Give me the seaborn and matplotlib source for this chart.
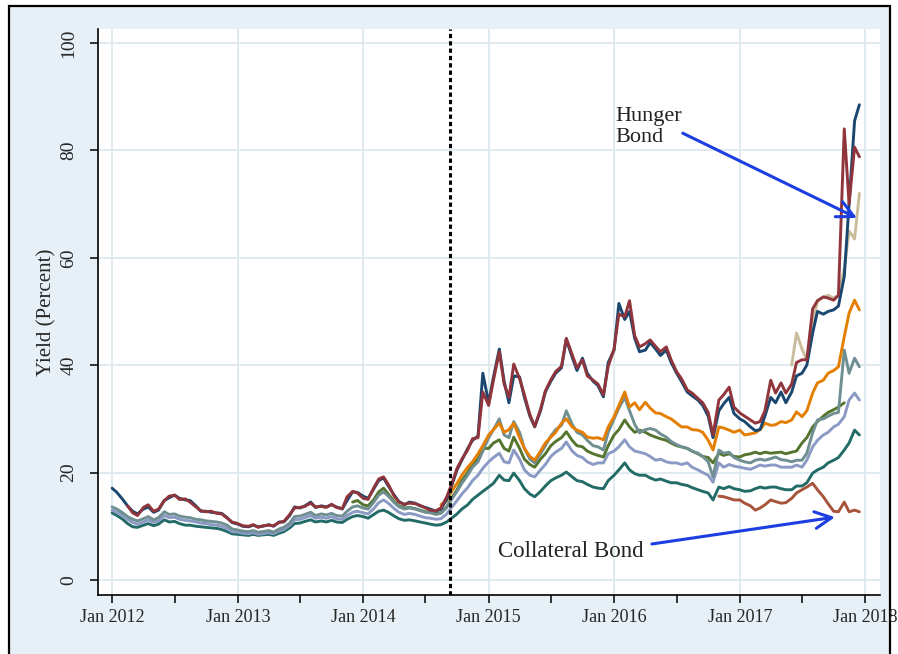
import matplotlib
matplotlib.use("Agg")
import matplotlib.pyplot as plt
import matplotlib.dates as mdates
from matplotlib.patches import Rectangle
import numpy as np
import pandas as pd
import seaborn as sns

nan = np.nan

# fechas quincenales (1 y 15 de cada mes)
fechas = list(pd.date_range("2012-01-01", "2017-12-15", freq="SMS"))

# rendimientos (por anio, 24 valores cada uno)
navy = ([17.1, 16.3, 15.0, 13.8, 12.8, 12.3, 13.2, 13.6, 12.6, 13.0, 14.8, 15.3, 15.8, 15.2, 14.9, 14.8, 13.8, 12.8, 12.8, 12.6, 12.5, 12.4, 11.6, 10.7]
        + [10.4, 10.0, 9.9, 10.2, 9.9, 10.0, 10.3, 10.0, 10.8, 10.8, 12.0, 13.6, 13.4, 13.8, 14.5, 13.5, 13.8, 13.6, 14.0, 13.6, 13.2, 14.8, 16.4, 16.3]
        + [15.6, 15.2, 17.0, 18.5, 19.0, 17.5, 15.8, 14.6, 14.0, 14.5, 14.3, 13.8, 13.5, 13.2, 12.8, 13.2, 15.0, 17.5, 20.5, 22.3, 24.5, 26.0, 26.8, 38.5]
        + [33.0, 37.8, 43.0, 37.0, 33.0, 38.0, 37.8, 34.0, 30.5, 28.5, 31.5, 35.0, 37.0, 38.5, 39.5, 44.8, 41.5, 39.0, 41.3, 38.5, 37.0, 36.2, 34.1, 40.5]
        + [42.8, 51.5, 48.5, 50.0, 45.0, 42.5, 42.8, 44.2, 43.0, 41.8, 42.8, 40.5, 38.5, 37.0, 35.0, 34.3, 33.5, 32.5, 30.5, 26.5, 31.5, 32.8, 34.0, 31.0]
        + [30.0, 29.5, 28.5, 27.8, 28.0, 30.5, 34.0, 33.0, 35.0, 33.0, 35.0, 38.0, 38.5, 40.0, 46.0, 50.0, 49.5, 50.0, 50.3, 51.0, 56.5, 70.0, 85.5, 88.5])

maroon = ([nan, nan, nan, 13.8, 12.5, 12.0, 13.5, 14.0, 12.8, 13.2, 14.8, 15.6, 15.8, 15.0, 15.1, 14.5, 13.6, 12.9, 12.7, 12.8, 12.4, 12.3, 11.5, 10.8]
          + [10.5, 10.1, 10.0, 10.3, 9.8, 10.1, 10.2, 10.1, 10.7, 10.9, 12.2, 13.4, 13.5, 13.7, 14.3, 13.6, 13.7, 13.5, 14.1, 13.5, 13.3, 15.5, 16.5, 16.2]
          + [15.2, 15.0, 17.2, 18.8, 19.2, 17.8, 15.6, 14.5, 14.1, 14.3, 14.2, 13.9, 13.4, 13.0, 12.9, 13.4, 15.5, 17.8, 20.8, 22.5, 24.2, 26.3, 26.5, 35.0]
          + [32.5, 37.2, 42.5, 36.5, 34.0, 40.2, 37.5, 34.5, 30.8, 28.6, 31.8, 35.2, 37.3, 38.8, 39.8, 45.0, 42.0, 39.5, 41.0, 38.0, 37.2, 36.5, 34.5, 39.8]
          + [43.0, 49.5, 49.0, 52.0, 45.5, 43.4, 44.0, 44.7, 43.5, 42.5, 43.4, 41.0, 38.8, 37.5, 35.4, 34.8, 33.8, 33.0, 31.2, 27.0, 33.5, 34.5, 35.9, 32.2]
          + [31.1, 30.5, 29.8, 29.2, 29.5, 31.5, 37.2, 34.8, 36.7, 34.8, 36.5, 40.5, 41.0, 41.0, 50.5, 52.0, 52.7, 52.5, 52.1, 53.0, 84.0, 70.0, 80.6, 78.8])

naranja = ([nan] * 24 + [nan] * 24
           + [nan] * 15 + [14.0, 14.8, 16.5, 18.0, 19.5, 21.0, 22.0, 23.5, 25.0]
           + [27.0, 28.0, 29.2, 27.5, 28.0, 29.2, 26.5, 24.5, 23.0, 22.3, 24.0, 25.5, 26.6, 27.5, 29.2, 30.0, 28.5, 27.9, 27.5, 26.6, 26.4, 26.5, 26.1, 28.5]
           + [30.4, 32.5, 35.0, 32.2, 33.0, 31.7, 33.1, 32.0, 31.1, 31.0, 30.4, 30.0, 29.2, 28.5, 28.5, 28.0, 27.9, 27.5, 26.0, 24.2, 28.5, 28.3, 27.9, 27.5]
           + [27.9, 27.0, 27.2, 27.4, 28.0, 29.2, 28.8, 28.9, 29.5, 29.3, 29.8, 31.3, 30.4, 31.5, 34.8, 36.7, 37.2, 38.5, 39.0, 39.7, 45.3, 49.7, 52.1, 50.3])

teal = ([13.6, 13.2, 12.5, 11.8, 11.3, 11.0, 11.4, 11.8, 11.2, 11.6, 12.7, 12.2, 12.3, 11.9, 11.7, 11.6, 11.3, 11.2, 11.0, 10.9, 10.8, 10.6, 10.2, 9.5]
        + [9.3, 9.1, 9.0, 9.2, 8.9, 9.0, 9.2, 8.9, 9.5, 9.8, 10.6, 11.8, 11.9, 12.2, 12.6, 12.0, 12.3, 12.1, 12.4, 12.0, 11.9, 12.8, 13.6, 13.8]
        + [13.4, 13.2, 14.5, 15.8, 16.4, 15.6, 14.4, 13.6, 13.2, 13.4, 13.2, 12.9, 12.6, 12.5, 12.2, 12.4, 13.5, 15.0, 16.5, 18.0, 19.5, 21.0, 22.0, 24.0]
        + [26.5, 28.0, 30.0, 27.0, 26.5, 29.5, 27.5, 24.5, 22.5, 21.8, 23.5, 25.0, 26.8, 28.0, 28.8, 31.5, 29.0, 27.5, 27.0, 26.0, 25.0, 24.8, 24.2, 27.5]
        + [30.0, 32.0, 34.0, 31.5, 29.0, 27.4, 28.0, 28.2, 27.9, 27.2, 26.6, 25.8, 25.2, 24.8, 24.5, 24.0, 23.6, 23.0, 22.0, 19.2, 24.2, 23.6, 23.8, 22.8]
        + [22.3, 22.0, 21.8, 22.3, 22.5, 22.3, 22.6, 22.9, 22.4, 22.3, 22.0, 22.3, 22.3, 23.6, 27.4, 29.8, 30.0, 30.5, 31.0, 31.2, 42.8, 38.5, 41.3, 39.7])

verde = ([nan] * 24
         + [nan] * 22 + [14.5, 14.8]
         + [14.0, 13.8, 15.0, 16.4, 17.1, 16.0, 14.6, 13.8, 13.4, 13.5, 13.3, 13.0, 12.7, 12.6, 12.3, 12.5, 13.6, 15.2, 16.8, 18.5, 20.0, 21.5, 22.5, 24.5]
         + [24.5, 25.5, 26.1, 24.5, 24.0, 26.6, 24.5, 22.5, 21.5, 21.0, 22.5, 23.5, 25.0, 25.8, 26.5, 27.6, 26.0, 25.0, 24.8, 24.0, 23.5, 23.2, 22.9, 25.0]
         + [27.0, 28.0, 29.8, 28.5, 27.5, 27.9, 27.5, 27.0, 26.6, 26.3, 26.0, 25.5, 25.0, 24.8, 24.5, 24.0, 23.5, 23.0, 22.8, 21.8, 23.6, 23.2, 23.5, 23.0]
         + [22.9, 23.3, 23.5, 23.8, 23.5, 23.8, 23.6, 23.7, 23.8, 23.5, 23.8, 24.0, 25.5, 26.5, 28.5, 29.5, 30.5, 31.2, 31.7, 32.2, 33.0, nan, nan, nan])

lavanda = ([13.0, 12.6, 12.0, 11.3, 10.7, 10.4, 10.8, 11.2, 10.7, 11.0, 12.0, 11.6, 11.7, 11.3, 11.1, 11.0, 10.8, 10.6, 10.5, 10.3, 10.2, 10.0, 9.6, 9.0]
           + [8.9, 8.7, 8.6, 8.8, 8.5, 8.6, 8.8, 8.6, 9.1, 9.4, 10.2, 11.2, 11.3, 11.6, 12.0, 11.5, 11.7, 11.5, 11.8, 11.4, 11.3, 12.0, 12.6, 12.8]
           + [12.5, 12.3, 13.3, 14.4, 14.9, 14.3, 13.3, 12.6, 12.2, 12.4, 12.2, 11.9, 11.6, 11.5, 11.3, 11.4, 12.3, 13.5, 14.8, 16.0, 17.2, 18.5, 19.5, 20.8]
           + [22.0, 22.8, 23.6, 22.0, 21.8, 24.2, 22.5, 20.5, 19.5, 19.2, 20.5, 21.5, 23.0, 23.8, 24.5, 25.7, 24.0, 23.2, 22.8, 22.0, 21.5, 21.8, 21.8, 23.5]
           + [24.0, 24.8, 26.1, 24.8, 24.0, 23.8, 23.5, 23.0, 22.3, 22.5, 22.0, 21.8, 21.8, 21.5, 21.8, 21.0, 20.5, 20.0, 19.5, 18.2, 21.8, 21.0, 21.5, 21.2]
           + [21.0, 20.8, 20.6, 21.0, 21.4, 21.2, 21.4, 21.4, 21.0, 21.0, 21.0, 21.4, 21.0, 22.3, 24.8, 26.0, 27.0, 27.5, 28.5, 29.0, 30.4, 33.5, 34.8, 33.5])

teal_oscuro = ([12.5, 12.0, 11.3, 10.5, 9.9, 9.8, 10.2, 10.5, 10.1, 10.4, 11.2, 10.8, 10.9, 10.5, 10.2, 10.2, 10.0, 9.9, 9.8, 9.7, 9.6, 9.4, 9.0, 8.6]
               + [8.5, 8.4, 8.3, 8.5, 8.3, 8.4, 8.5, 8.3, 8.7, 9.0, 9.7, 10.5, 10.6, 10.9, 11.2, 10.8, 11.0, 10.8, 11.1, 10.8, 10.7, 11.3, 11.8, 12.0]
               + [11.8, 11.5, 12.2, 12.8, 13.0, 12.6, 11.9, 11.4, 11.1, 11.2, 11.0, 10.8, 10.6, 10.4, 10.2, 10.3, 10.8, 11.5, 12.3, 13.2, 14.0, 15.0, 15.8, 16.5]
               + [17.3, 18.0, 19.5, 18.6, 18.5, 19.9, 18.5, 17.0, 16.0, 15.5, 16.5, 17.5, 18.5, 19.0, 19.5, 20.1, 19.2, 18.5, 18.3, 17.8, 17.3, 17.1, 17.0, 18.5]
               + [19.5, 20.5, 21.8, 20.5, 19.8, 19.5, 19.5, 19.0, 18.6, 18.8, 18.4, 18.1, 18.1, 17.8, 17.6, 17.2, 16.8, 16.5, 16.2, 14.9, 17.3, 17.0, 17.4, 17.0]
               + [16.8, 16.5, 16.6, 17.0, 17.3, 17.1, 17.3, 17.3, 17.0, 16.8, 16.8, 17.5, 17.5, 18.1, 19.9, 20.5, 21.0, 21.8, 22.3, 22.8, 24.2, 25.5, 27.9, 27.0])

hunger = [nan] * 130 + [40.0, 46.0, 43.0, 41.0, 47.5, 52.0, 52.7, 53.0, 52.5, 53.0, 58.0, 65.0, 63.5, 72.0]

collateral = ([nan] * 116
              + [15.6, 15.5, 15.2, 14.9, 14.9, 14.3, 13.8, 13.0, 13.4, 14.0, 14.9, 14.6, 14.3, 14.4,
                 15.2, 16.2, 16.8, 17.3, 18.0, 16.8, 15.5, 14.2, 12.8, 12.7, 14.5, 12.7, 13.0, 12.7])

series = {
    "teal_oscuro": teal_oscuro,
    "lavanda": lavanda,
    "verde": verde,
    "teal": teal,
    "naranja": naranja,
    "collateral": collateral,
    "hunger": hunger,
    "navy": navy,
    "maroon": maroon,
}

colores = {
    "teal_oscuro": "#236b66",
    "lavanda": "#8a9ac4",
    "verde": "#55752f",
    "teal": "#6f8f93",
    "naranja": "#e37e00",
    "collateral": "#a6543a",
    "hunger": "#c9bd9c",
    "navy": "#1a476f",
    "maroon": "#90353b",
}

df = pd.concat(
    [pd.DataFrame({"fecha": fechas, "rendimiento": v, "bono": k}) for k, v in series.items()]
).dropna()

sns.set_style("white")
plt.rcParams["font.family"] = ["Liberation Serif", "DejaVu Serif"]

fig = plt.figure(figsize=(8.98, 6.54), dpi=100, facecolor="white")
# marco azul claro de fondo (estilo Stata)
fig.patches.append(Rectangle((9 / 898, -0.02), 881 / 898, 648 / 654 + 0.02,
                             transform=fig.transFigure, facecolor="#e6f0f6",
                             edgecolor="black", linewidth=1.6, zorder=-1))
ax = fig.add_axes([98 / 898, 59 / 654, 782 / 898, 566 / 654])
ax.set_facecolor("white")

sns.lineplot(data=df, x="fecha", y="rendimiento", hue="bono", hue_order=list(series.keys()),
             palette=colores, estimator=None, errorbar=None, linewidth=2.1,
             legend=False, ax=ax)

# linea vertical punteada (sep 2014)
ax.axvline(pd.Timestamp("2014-09-10"), color="black", linestyle=(0, (1.4, 1.0)), linewidth=2.2)

ax.set_xlim(pd.Timestamp("2011-11-21"), pd.Timestamp("2018-02-13"))
ax.set_ylim(-2.8, 102.6)
ax.set_yticks([0, 20, 40, 60, 80, 100])
ax.xaxis.set_major_locator(mdates.YearLocator())
ax.xaxis.set_minor_locator(mdates.MonthLocator(bymonth=7))
ax.xaxis.set_major_formatter(mdates.DateFormatter("Jan %Y"))

ax.grid(True, which="major", color="#dde9ef", linewidth=1.3)
ax.set_axisbelow(True)
for s in ["top", "right"]:
    ax.spines[s].set_visible(False)
for s in ["left", "bottom"]:
    ax.spines[s].set_color("black")
    ax.spines[s].set_linewidth(1.2)

ax.tick_params(axis="x", which="both", direction="out", length=6, width=1.1,
               color="black", labelsize=13, pad=4, bottom=True)
ax.tick_params(axis="y", direction="out", length=6, width=1.1, color="black",
               labelsize=14, pad=9, labelrotation=90, left=True)
for lbl in ax.get_yticklabels():
    lbl.set_verticalalignment("center")

ax.set_xlabel("")
ax.set_ylabel("Yield (Percent)", fontsize=15, labelpad=3)

# anotaciones
azul = "#1c3ee0"
ax.text(mdates.date2num(pd.Timestamp("2016-01-06")), 81.6, "Hunger\nBond", fontsize=16,
        ha="left", va="baseline", linespacing=1.15, color="#222222")
ax.annotate("", xy=(mdates.date2num(pd.Timestamp("2017-12-08")), 67.4),
            xytext=(mdates.date2num(pd.Timestamp("2016-07-19")), 83.2),
            arrowprops=dict(arrowstyle="->,head_length=0.6,head_width=0.3", color=azul,
                            lw=2.2, mutation_scale=20, shrinkA=0, shrinkB=0))
ax.text(mdates.date2num(pd.Timestamp("2015-01-28")), 4.3, "Collateral Bond", fontsize=16.5,
        ha="left", va="baseline", color="#222222")
ax.annotate("", xy=(mdates.date2num(pd.Timestamp("2017-10-05")), 11.7),
            xytext=(mdates.date2num(pd.Timestamp("2016-04-20")), 6.7),
            arrowprops=dict(arrowstyle="->,head_length=0.6,head_width=0.3", color=azul,
                            lw=2.2, mutation_scale=20, shrinkA=0, shrinkB=0))

fig.savefig("out.png", dpi=100)
